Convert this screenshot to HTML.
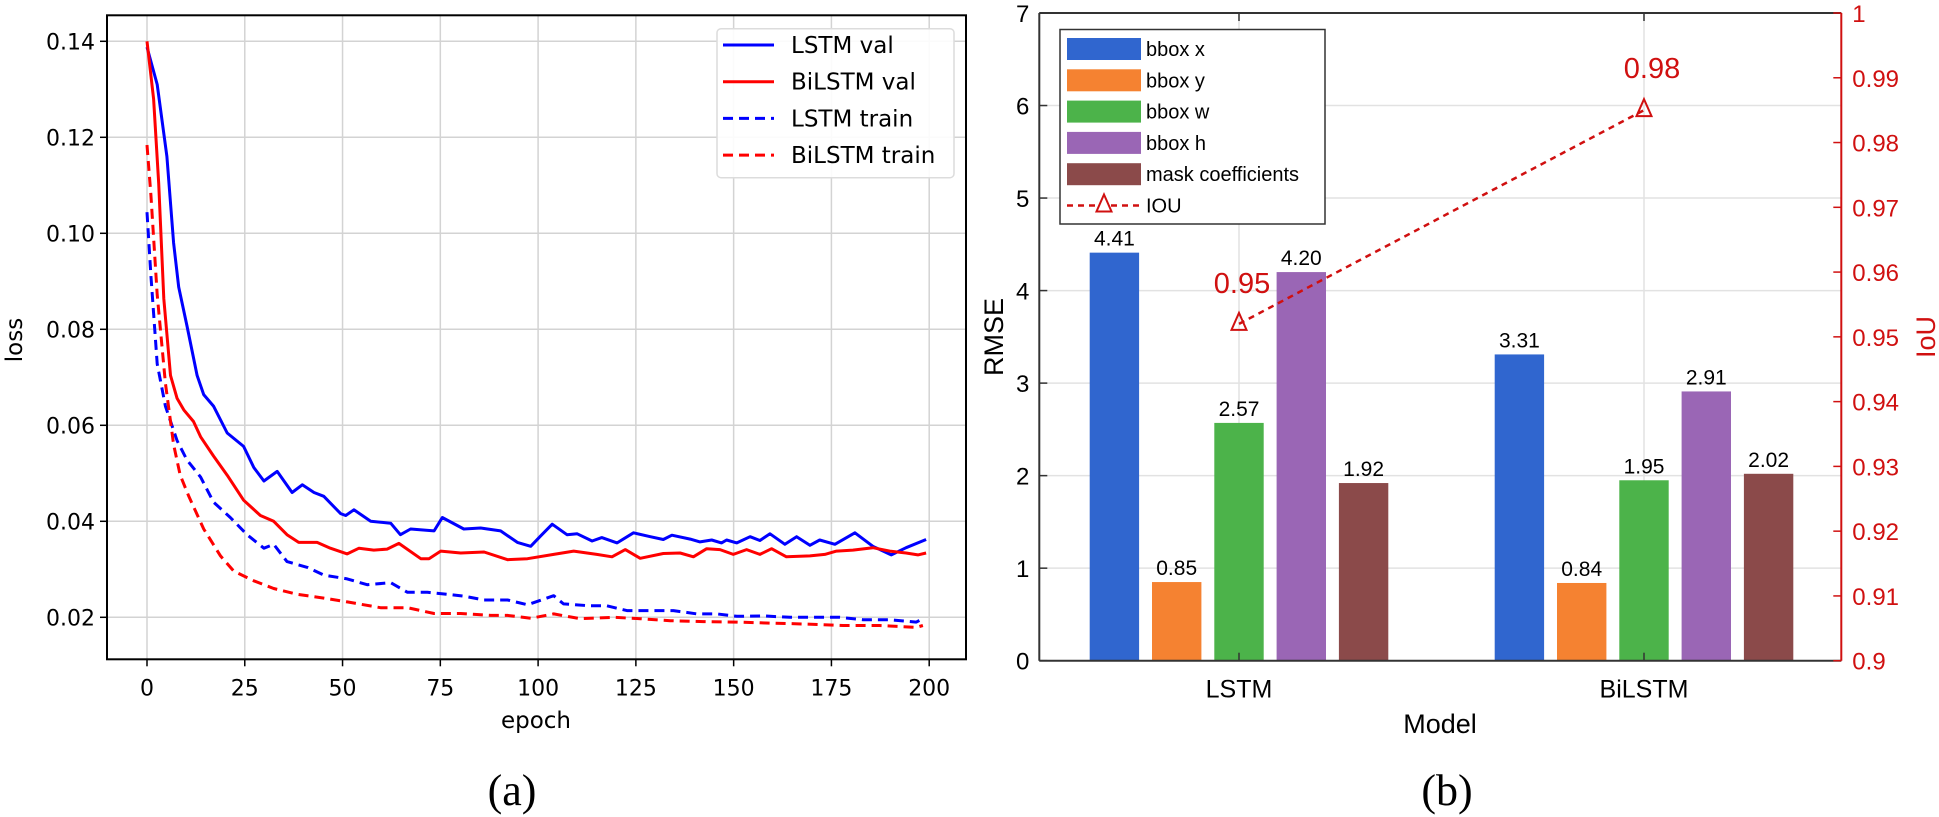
<!DOCTYPE html>
<html><head><meta charset="utf-8"><style>
body{margin:0;background:#fff;}
svg{display:block;}
</style></head><body>
<svg id="fig" width="1939" height="817" viewBox="0 0 1939 817" xmlns="http://www.w3.org/2000/svg">
<g id="left"></g>
<g id="right"></g>
<text x="512" y="805" font-family="Liberation Serif, serif" font-size="44" text-anchor="middle">(a)</text>
<text x="1447" y="805" font-family="Liberation Serif, serif" font-size="44" text-anchor="middle">(b)</text>
</svg>
<script>
// ---------- Left chart data ----------
const lstmValE=[0,2.6,5.1,6.8,8.1,10.2,12.8,14.5,17,20.5,24.7,27.3,29.9,33.3,37.1,39.7,42.7,45.2,49.5,50.8,52.9,57.2,62.3,64.8,67.4,73.4,75.5,81,85.3,90.4,94.7,98.1,100.6,103.6,107.4,110,113.8,116.3,120.2,124.4,128.7,132,134.2,138.9,141.4,144.4,146.9,148.2,150.8,154.2,156.7,159.3,163.1,166.1,169.5,172,175.9,181,185.6,190.3,194.1,199.2];
const lstmValV=[0.1388,0.131,0.116,0.098,0.0888,0.0808,0.0704,0.0664,0.064,0.0584,0.0556,0.0512,0.0484,0.0504,0.046,0.0476,0.046,0.0452,0.0416,0.0412,0.0424,0.040,0.0396,0.0372,0.0384,0.038,0.0408,0.0384,0.0386,0.038,0.0356,0.0348,0.0369,0.0394,0.0372,0.0374,0.0359,0.0366,0.0355,0.0376,0.0368,0.0362,0.0371,0.0363,0.0357,0.0361,0.0355,0.0361,0.0355,0.0368,0.036,0.0374,0.0352,0.0368,0.035,0.0361,0.0352,0.0376,0.0348,0.033,0.0345,0.0362];
const biValE=[0,1.7,3,4.3,6,7.7,9.4,11.9,13.7,17,20.5,24.7,29,32.4,35.8,38.8,43.5,46.9,51.2,54.2,58,61.4,64.4,70,72.1,75.1,80.2,86.2,92.2,97.3,104,109.1,115,118.9,122.3,126.1,132,136.3,139.7,143.1,146.5,149.9,153.3,156.7,159.7,163.5,169.5,173.3,176.3,180.5,185.6,189.9,194.1,197.1,199.2];
const biValV=[0.14,0.128,0.1104,0.0864,0.0704,0.0656,0.0632,0.0608,0.0576,0.0536,0.0496,0.0444,0.0412,0.040,0.0372,0.0356,0.0356,0.0344,0.0332,0.0344,0.034,0.0342,0.0354,0.0322,0.0322,0.0338,0.0334,0.0336,0.032,0.0322,0.0331,0.0338,0.0331,0.0326,0.0341,0.0323,0.0333,0.0334,0.0326,0.0343,0.0341,0.0331,0.0341,0.0331,0.0343,0.0326,0.0328,0.0331,0.0338,0.034,0.0345,0.0338,0.0334,0.033,0.0334];
const lstmTrE=[0,1,2.6,4.7,7.7,10.2,13.7,17,21.3,25.6,29.9,32.4,35.8,41,45.2,51.2,56.3,62.3,66.6,71.7,76.8,81.1,86.2,92.2,97.3,104,106.5,113.3,117.6,122.7,128.7,134.6,140.6,145.7,150.8,157.6,164.4,170.3,177.1,183.1,189.9,196.7,198.4];
const lstmTrV=[0.1044,0.0912,0.0728,0.064,0.0568,0.0528,0.0492,0.044,0.0408,0.0372,0.0344,0.0352,0.0316,0.0304,0.0288,0.028,0.0268,0.0272,0.0252,0.0252,0.0248,0.0244,0.0236,0.0236,0.0226,0.0245,0.0228,0.0224,0.0224,0.0214,0.0214,0.0214,0.0207,0.0207,0.0202,0.0203,0.02,0.02,0.02,0.0195,0.0195,0.019,0.0197];
const biTrE=[0,1,2.6,4.7,6.8,8.5,10.7,14.5,18.8,22.2,27.3,32.4,38.4,45.2,51.2,59.7,66.6,73.4,80.2,87.9,92.2,98.1,104,110.8,119.3,126.1,133.8,142.3,150.8,159.3,167.8,178,187.3,196.7,198.4];
const biTrV=[0.1184,0.108,0.0872,0.0688,0.056,0.0496,0.0452,0.0384,0.0328,0.0296,0.0276,0.026,0.0248,0.024,0.0232,0.022,0.022,0.0208,0.0208,0.0204,0.0204,0.0198,0.0207,0.0197,0.02,0.0197,0.0193,0.0191,0.019,0.0188,0.0186,0.0183,0.0183,0.0179,0.0183];
const xTicksL=[0,25,50,75,100,125,150,175,200];
const yTicksL=[0.02,0.04,0.06,0.08,0.10,0.12,0.14];

// ---------- Right chart data ----------
const models=['LSTM','BiLSTM'];
const seriesNames=['bbox x','bbox y','bbox w','bbox h','mask coefficients'];
const bboxX=[4.41,3.31];
const bboxY=[0.85,0.84];
const bboxW=[2.57,1.95];
const bboxH=[4.20,2.91];
const maskCoef=[1.92,2.02];
const iou=[0.952,0.985];
const iouLabels=['0.95','0.98'];
const yTicksR=[0,1,2,3,4,5,6,7];
const iouTicks=[0.9,0.91,0.92,0.93,0.94,0.95,0.96,0.97,0.98,0.99,1];

const NS='http://www.w3.org/2000/svg';
function mk(parent,tag,attrs,text){const e=document.createElementNS(NS,tag);for(const k in attrs)e.setAttribute(k,attrs[k]);if(text!==undefined)e.textContent=text;parent.appendChild(e);return e;}

// ===== Left chart =====
const L=document.getElementById('left');
const lx0=107,lx1=966,ly0=15.3,ly1=659.3;
const xL=e=>147+e*3.911;
const yL=v=>41.3+(0.14-v)*4800;
const DV='DejaVu Sans, sans-serif';
xTicksL.forEach(t=>{
  const g=mk(L,'line',{x1:xL(t),x2:xL(t),y1:ly0,y2:ly1,stroke:'#d3d3d3','stroke-width':1.5});
  
  
  mk(L,'line',{x1:xL(t),x2:xL(t),y1:ly1,y2:ly1+7,stroke:'#000','stroke-width':1.5});
  const tl=mk(L,'text',{x:xL(t),y:ly1+36,'font-family':DV,'font-size':22,'text-anchor':'middle'},String(t));
  
  
});
yTicksL.forEach(t=>{
  const g=mk(L,'line',{x1:lx0,x2:lx1,y1:yL(t),y2:yL(t),stroke:'#d3d3d3','stroke-width':1.5});
  
  
  mk(L,'line',{x1:lx0-7,x2:lx0,y1:yL(t),y2:yL(t),stroke:'#000','stroke-width':1.5});
  const tl=mk(L,'text',{x:lx0-12,y:yL(t)+8,'font-family':DV,'font-size':22,'text-anchor':'end'},t.toFixed(2));
  
  
});
function series(E,V,color,dash,name){
  const d=E.map((e,i)=>(i?'L':'M')+xL(e).toFixed(1)+' '+yL(V[i]).toFixed(1)).join(' ');
  const p=mk(L,'path',{d:d,fill:'none',stroke:color,'stroke-width':3,'stroke-linejoin':'round','stroke-dasharray':dash?'10 6':'none'});
  
  
}
series(lstmTrE,lstmTrV,'#0000ff',true,'lstm-train-line');
series(biTrE,biTrV,'#ff0000',true,'bilstm-train-line');
series(lstmValE,lstmValV,'#0000ff',false,'lstm-val-line');
series(biValE,biValV,'#ff0000',false,'bilstm-val-line');
mk(L,'rect',{x:lx0,y:ly0,width:lx1-lx0,height:ly1-ly0,fill:'none',stroke:'#000','stroke-width':2});
const xt=mk(L,'text',{x:536,y:728,'font-family':DV,'font-size':23,'text-anchor':'middle'},'epoch');


const yt=mk(L,'text',{x:0,y:0,'font-family':DV,'font-size':23,'text-anchor':'middle',transform:'translate(22,340) rotate(-90)'},'loss');


// legend
const lg=mk(L,'g',{});


mk(lg,'rect',{x:717,y:28.7,width:237,height:149,rx:4,fill:'#fff','fill-opacity':0.9,stroke:'#dcdcdc','stroke-width':1.5});
[['LSTM val','#0000ff',false],['BiLSTM val','#ff0000',false],['LSTM train','#0000ff',true],['BiLSTM train','#ff0000',true]].forEach((r,i)=>{
  const y=45+i*36.7;
  mk(lg,'line',{x1:723,x2:774,y1:y,y2:y,stroke:r[1],'stroke-width':3,'stroke-dasharray':r[2]?'10 6':'none'});
  const t=mk(lg,'text',{x:791,y:y+8,'font-family':DV,'font-size':23},r[0]);
  
  
});

// ===== Right chart =====
const R=document.getElementById('right');
const rx0=1039.3,rx1=1841.3,ry0=13,ry1=660.7;
const yR=v=>ry1-v*(ry1-ry0)/7;
const yI=v=>ry1-(v-0.9)*(ry1-ry0)/0.1;
const catX=i=>1239+i*405;
const offs=[-2,-1,0,1,2];
const colors=['#3066cf','#f58231','#4cb34a','#9a66b5','#8b4a4a'];
const allSeries=[bboxX,bboxY,bboxW,bboxH,maskCoef];
const HS='Liberation Sans, Arial, sans-serif';
yTicksR.forEach(t=>{
  if(t>0&&t<7){const g=mk(R,'line',{x1:rx0,x2:rx1,y1:yR(t),y2:yR(t),stroke:'#e2e2e2','stroke-width':1.5});
  
  }
  mk(R,'line',{x1:rx0,x2:rx0+8,y1:yR(t),y2:yR(t),stroke:'#333','stroke-width':1.5});
  const tl=mk(R,'text',{x:rx0-10,y:yR(t)+9,'font-family':HS,'font-size':24,'text-anchor':'end'},String(t));
  
  
});
models.forEach((m,i)=>{
  mk(R,'line',{x1:catX(i),x2:catX(i),y1:ry0,y2:ry1,stroke:'#e2e2e2','stroke-width':1.5});
  const tl=mk(R,'text',{x:catX(i),y:ry1+37,'font-family':HS,'font-size':25,'text-anchor':'middle'},m);
  
  
});
allSeries.forEach((s,k)=>{
  s.forEach((v,i)=>{
    const cx=catX(i)+offs[k]*62.3;
    const b=mk(R,'rect',{x:cx-24.7,y:yR(v),width:49.4,height:ry1-yR(v),fill:colors[k]});
    
    
    const t=mk(R,'text',{x:cx,y:yR(v)-7,'font-family':HS,'font-size':21,'text-anchor':'middle'},v.toFixed(2));
    
    
  });
});
models.forEach((m,i)=>{
  mk(R,'line',{x1:catX(i),x2:catX(i),y1:ry1,y2:ry1-8,stroke:'#333','stroke-width':1.5});
  mk(R,'line',{x1:catX(i),x2:catX(i),y1:ry0,y2:ry0+8,stroke:'#333','stroke-width':1.5});
});
// axes lines
mk(R,'line',{x1:rx0,x2:rx1,y1:ry0,y2:ry0,stroke:'#333','stroke-width':2});
mk(R,'line',{x1:rx0,x2:rx1,y1:ry1,y2:ry1,stroke:'#333','stroke-width':2});
mk(R,'line',{x1:rx0,x2:rx0,y1:ry0,y2:ry1,stroke:'#333','stroke-width':2});
mk(R,'line',{x1:rx1,x2:rx1,y1:ry0,y2:ry1,stroke:'#d01010','stroke-width':2});
iouTicks.forEach(t=>{
  mk(R,'line',{x1:rx1-8,x2:rx1,y1:yI(t),y2:yI(t),stroke:'#d01010','stroke-width':1.5});
  const tl=mk(R,'text',{x:rx1+11,y:yI(t)+9,'font-family':HS,'font-size':24,fill:'#d01010'},String(Math.round(t*100)/100));
  
  
});
// IoU line
const ip=mk(R,'path',{d:iou.map((v,i)=>(i?'L':'M')+catX(i)+' '+yI(v)).join(' '),fill:'none',stroke:'#d01010','stroke-width':2.5,'stroke-dasharray':'6 5'});


iou.forEach((v,i)=>{
  const x=catX(i),y=yI(v);
  const tri=mk(R,'path',{d:`M${x} ${y-11} L${x+7.5} ${y+6} L${x-7.5} ${y+6} Z`,fill:'none',stroke:'#d01010','stroke-width':2});
  
  
  const lbl=mk(R,'text',{x:x+(i?8:3),y:y-(i?32:31),'font-family':HS,'font-size':29,fill:'#d01010','text-anchor':'middle'},iouLabels[i]);
  
  
});
const rt=mk(R,'text',{x:0,y:0,'font-family':HS,'font-size':27,'text-anchor':'middle',transform:'translate(1003,337) rotate(-90)'},'RMSE');


const it=mk(R,'text',{x:0,y:0,'font-family':HS,'font-size':27,'text-anchor':'middle',fill:'#d01010',transform:'translate(1935,337) rotate(-90)'},'IoU');


const mt=mk(R,'text',{x:1440,y:733,'font-family':HS,'font-size':27,'text-anchor':'middle'},'Model');


// legend
const rl=mk(R,'g',{});


mk(rl,'rect',{x:1060,y:29.5,width:265,height:194.5,fill:'#fff',stroke:'#333','stroke-width':1.5});
seriesNames.forEach((n,k)=>{
  const y=49+k*31.3;
  mk(rl,'rect',{x:1067,y:y-11,width:74,height:22,fill:colors[k]});
  const t=mk(rl,'text',{x:1146,y:y+7,'font-family':HS,'font-size':20},n);
  
  
});
{const y=205.5;
 mk(rl,'line',{x1:1067,x2:1141,y1:y,y2:y,stroke:'#d01010','stroke-width':2.5,'stroke-dasharray':'6 5'});
 mk(rl,'path',{d:`M1104 ${y-11} L1111.5 ${y+6} L1096.5 ${y+6} Z`,fill:'#fff',stroke:'#d01010','stroke-width':2});
 const t=mk(rl,'text',{x:1146,y:y+7,'font-family':HS,'font-size':20},'IOU');
 
 }
</script>
</body></html>
